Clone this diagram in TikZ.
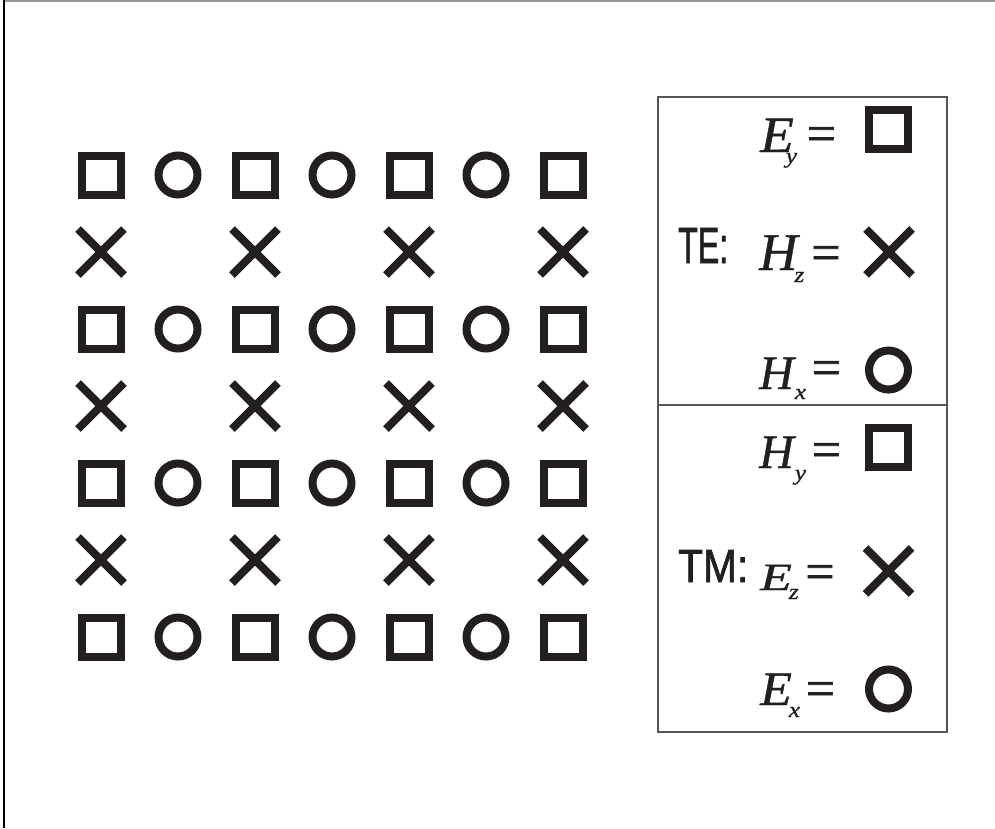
\documentclass[tikz,border=0pt]{standalone}
\usepackage{fontspec}
\setmainfont{Liberation Serif}
\newfontfamily\sansf[FakeBold=1.6]{Liberation Sans}
\newfontfamily\serifit[FakeBold=0.8]{Liberation Serif Italic}
\newfontfamily\serifup[FakeBold=1.2]{Liberation Serif}
\usetikzlibrary{shapes.misc}
\definecolor{ink}{HTML}{231F20}
\definecolor{frame}{HTML}{555555}
\tikzset{
  sq/.style={draw=ink, line width=8pt, minimum size=39pt, inner sep=0pt, rectangle},
  ci/.style={draw=ink, line width=8pt, minimum size=39pt, inner sep=0pt, circle},
  xx/.style={draw=ink, line width=8pt, minimum size=38pt, inner sep=0pt, cross out},
  lab/.style={inner sep=0pt, anchor=base west, text=ink},
  eqs/.style={inner sep=0pt, anchor=center, text=ink, font=\fontsize{52}{52}\serifup},
}
% #1 size, #2 letter, #3 kern, #4 drop, #5 subscript
\newcommand{\fld}[5]{{\fontsize{#1}{#1}\serifit #2}\hspace*{#3}\raisebox{-#4}{\fontsize{22}{22}\serifit\scalebox{1.15}[1]{#5}}}
\begin{document}
\begin{tikzpicture}[x=1pt,y=-1pt]
\useasboundingbox (0,0) rectangle (995,828);
% page border lines
\coordinate (tl) at (4,1);
\coordinate (tr) at (995,1);
\coordinate (bt) at (4,0);
\coordinate (bl) at (4,828);
\draw[color=gray!80, line width=1.5pt] (tl) -- (tr);
\draw[color=black, line width=1.8pt] (bt) -- (bl);
% grid
\foreach \r [count=\ri] in {175,329,483,637}{
  \foreach \c [count=\ci] in {101,255,409,563}{
    \node[sq] (s-\ri-\ci) at (\c,\r) {};
  }
  \foreach \c [count=\ci] in {178,332,486}{
    \node[ci] (c-\ri-\ci) at (\c,\r) {};
  }
}
\foreach \r [count=\ri] in {252,406,560}{
  \foreach \c [count=\ci] in {101,255,409,563}{
    \node[xx] (x-\ri-\ci) at (\c,\r) {};
  }
}
% legend box
\coordinate (b1) at (658,97);
\coordinate (b2) at (947,732);
\coordinate (d1) at (658,405);
\coordinate (d2) at (947,405);
\draw[frame, line width=1.5pt] (b1) rectangle (b2);
\draw[frame, line width=1.5pt] (d1) -- (d2);
% legend symbols
\node[sq] (lEy) at (888.5,129) {};
\node[xx] (lHz) at (889,252) {};
\node[ci] (lHx) at (888.5,370) {};
\node[sq] (lHy) at (888.5,447) {};
\node[xx] (lEz) at (888.5,571) {};
\node[ci] (lEx) at (888.5,689) {};
% TE / TM labels
\node[lab] (te) at (678,263) {\sansf\resizebox{50pt}{35pt}{TE:}};
\node[lab] (tm) at (678,582) {\sansf\resizebox{70pt}{32pt}{TM:}};
% field labels
\node[lab] (tEy) at (760,152) {\fld{51}{\scalebox{1.08}[1]{E}}{-8pt}{11pt}{y}};
\node[eqs] (eEy) at (821.5,139) {=};
\node[lab] (tHz) at (759,270) {\fld{53}{H}{-3pt}{12pt}{z}};
\node[eqs] (eHz) at (826,258) {=};
\node[lab] (tHx) at (759,389) {\fld{48}{H}{1pt}{10pt}{x}};
\node[lab] (tHy) at (759,468) {\fld{48}{H}{1pt}{12pt}{y}};
\node[eqs] (eHx) at (826.5,373) {=};
\node[eqs] (eHy) at (826.5,455) {=};
\node[lab] (tEz) at (760,590) {\fld{48}{\scalebox{1.08}[0.8]{E}}{-3pt}{9pt}{z}};
\node[eqs] (eEz) at (820,577) {=};
\node[lab] (tEx) at (760,705) {\fld{48}{\scalebox{1.08}[1]{E}}{-3pt}{12pt}{x}};
\node[eqs] (eEx) at (820.5,694) {=};
\end{tikzpicture}
\end{document}
